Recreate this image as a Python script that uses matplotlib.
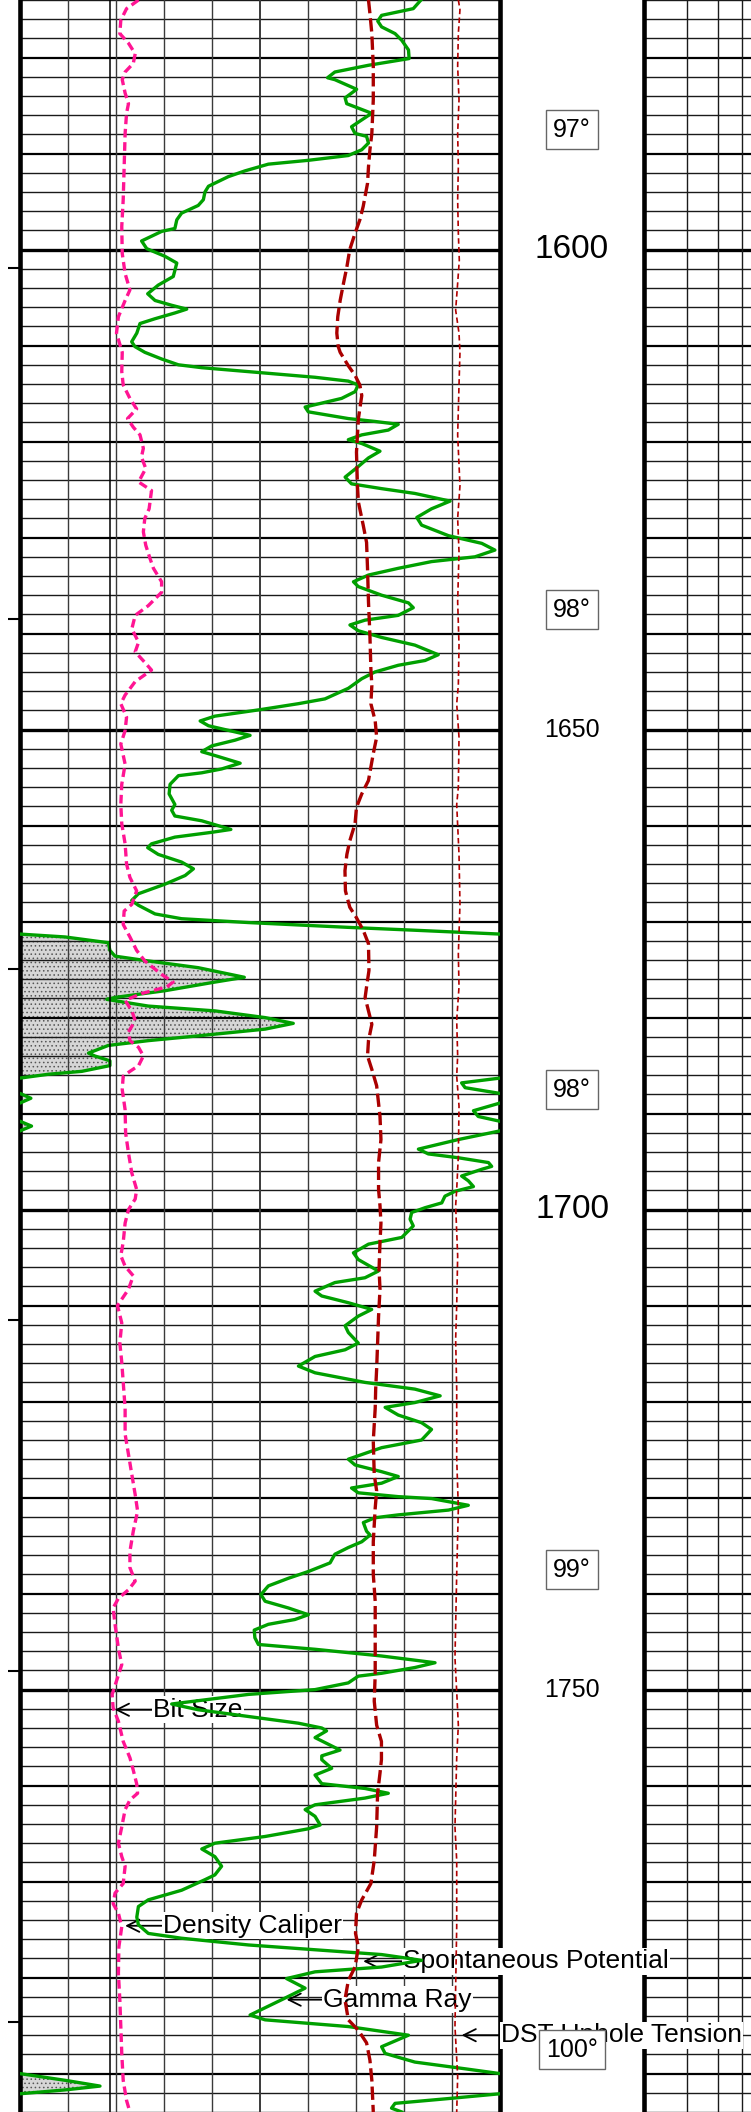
import numpy as np
import matplotlib.pyplot as plt
import matplotlib.transforms as mtransforms

plt.rcParams['font.family'] = ['Liberation Sans', 'DejaVu Sans']
plt.rcParams['hatch.linewidth'] = 0.6

# depth window shown on this sheet (ft)
top, base = 1574, 1794

# gamma ray, API (0-150 track, values above 150 wrap back in)
gr_depth = [1574.0, 1574.9, 1575.6, 1576.2, 1576.8, 1577.5, 1578.2, 1579.2, 1580.1, 1580.8,
            1581.5, 1582.1, 1582.3, 1583.3, 1584.2, 1584.8, 1585.8, 1587.2, 1587.9, 1588.2,
            1588.9, 1589.6, 1590.2, 1590.7, 1591.1, 1591.8, 1592.4, 1593.4, 1594.0, 1594.8,
            1595.4, 1596.2, 1596.9, 1597.8, 1598.1, 1599.1, 1599.9, 1600.7, 1601.4, 1602.8,
            1603.7, 1604.6, 1605.3, 1605.8, 1606.2, 1606.6, 1607.2, 1607.7, 1608.7, 1609.6,
            1610.1, 1610.7, 1611.4, 1612.0, 1612.3, 1612.8, 1613.3, 1613.7, 1614.1, 1614.8,
            1615.5, 1616.4, 1616.9, 1617.6, 1617.9, 1618.2, 1618.8, 1619.3, 1619.8, 1620.2,
            1621.0, 1621.7, 1622.6, 1623.7, 1624.4, 1624.9, 1625.4, 1626.2, 1627.0, 1627.9,
            1628.7, 1629.8, 1630.6, 1631.3, 1632.0, 1632.5, 1633.2, 1633.9, 1634.6, 1635.1,
            1636.0, 1636.8, 1637.3, 1638.1, 1638.6, 1639.1, 1639.7, 1640.4, 1641.2, 1642.2,
            1642.8, 1643.3, 1644.0, 1644.7, 1645.7, 1646.8, 1647.3, 1647.9, 1648.6, 1649.1,
            1649.6, 1650.6, 1651.1, 1651.7, 1652.3, 1652.7, 1653.5, 1654.1, 1654.5, 1654.8,
            1655.7, 1656.7, 1657.8, 1658.4, 1659.0, 1659.5, 1660.4, 1660.7, 1661.2, 1661.9,
            1662.3, 1663.0, 1663.8, 1664.5, 1665.2, 1666.1, 1667.1, 1667.8, 1668.3, 1669.2,
            1669.7, 1670.1, 1670.6, 1670.9, 1671.3, 1671.6, 1672.2, 1673.0, 1673.6, 1674.1,
            1674.8, 1675.8, 1676.3, 1677.2, 1677.9, 1678.1, 1678.8, 1679.3, 1680.0, 1680.6,
            1681.2, 1681.9, 1682.4, 1682.9, 1683.7, 1684.0, 1684.5, 1685.0, 1685.6, 1685.9,
            1686.3, 1686.8, 1687.3, 1687.9, 1688.4, 1688.9, 1689.7, 1690.3, 1690.8, 1691.3,
            1691.8, 1692.7, 1693.7, 1694.2, 1694.6, 1695.1, 1695.5, 1695.8, 1696.5, 1697.0,
            1697.6, 1698.1, 1698.6, 1699.3, 1699.8, 1700.3, 1701.0, 1701.7, 1702.9, 1703.6,
            1704.5, 1705.2, 1706.4, 1707.1, 1707.6, 1708.5, 1709.0, 1709.7, 1710.4, 1711.1,
            1712.1, 1712.8, 1713.9, 1714.6, 1715.3, 1716.3, 1717.0, 1718.0, 1718.7, 1719.4,
            1720.1, 1720.6, 1721.4, 1722.2, 1722.9, 1724.0, 1724.8, 1726.0, 1726.6, 1727.3,
            1727.8, 1728.5, 1729.0, 1729.5, 1729.9, 1730.1, 1730.8, 1731.3, 1731.8, 1732.1,
            1732.6, 1733.5, 1733.9, 1734.6, 1735.2, 1735.9, 1736.8, 1737.7, 1738.4, 1739.2,
            1740.1, 1740.8, 1741.5, 1742.2, 1742.7, 1743.2, 1743.8, 1744.6, 1745.3, 1745.8,
            1746.5, 1747.2, 1747.7, 1748.3, 1748.6, 1749.3, 1750.0, 1750.5, 1751.5, 1752.1,
            1752.8, 1753.5, 1754.0, 1754.3, 1755.0, 1755.7, 1756.3, 1756.9, 1757.3, 1758.2,
            1758.9, 1759.8, 1760.3, 1760.8, 1761.3, 1762.0, 1762.5, 1763.2, 1764.1, 1764.5,
            1765.3, 1766.0, 1766.6, 1767.4, 1768.4, 1769.3, 1769.8, 1770.9, 1771.9, 1772.6,
            1773.7, 1774.5, 1775.4, 1775.9, 1776.6, 1777.1, 1777.6, 1778.2, 1778.9, 1779.4,
            1780.1, 1781.1, 1782.3, 1783.9, 1784.4, 1785.1, 1786.0, 1787.2, 1787.9, 1788.8,
            1789.5, 1790.0, 1790.7, 1791.3, 1791.7, 1792.1, 1792.6, 1793.1, 1793.6, 1794.0]
gr_api = [125.3, 122.9, 113.0, 111.8, 113.0, 117.2, 119.3, 121.4, 121.6, 108.9,
          98.4, 96.1, 98.4, 105.2, 101.6, 102.1, 109.9, 103.6, 104.7, 108.3,
          108.9, 106.8, 102.6, 90.1, 77.6, 70.3, 65.1, 58.9, 57.8, 57.3,
          55.7, 50.5, 49.0, 48.4, 44.3, 38.0, 39.6, 45.3, 49.0, 47.9,
          43.2, 39.9, 42.2, 47.4, 52.1, 48.4, 42.2, 37.5, 36.5, 34.9,
          35.9, 39.0, 44.3, 49.5, 56.8, 74.5, 92.2, 102.6, 105.7, 104.7,
          100.5, 89.1, 90.1, 102.6, 110.9, 118.2, 115.1, 106.8, 102.6, 106.8,
          112.5, 108.9, 105.7, 101.6, 103.6, 113.0, 123.4, 134.4, 128.6, 124.0,
          125.5, 133.9, 144.3, 148.4, 142.2, 128.6, 118.2, 108.9, 104.2, 105.7,
          113.0, 121.4, 122.9, 118.2, 107.8, 103.1, 105.7, 113.0, 123.4, 130.7,
          126.6, 118.2, 110.9, 106.8, 102.6, 95.3, 87.0, 75.5, 60.9, 56.3,
          58.9, 71.9, 67.2, 59.9, 56.8, 60.9, 68.8, 63.0, 56.8, 49.5,
          46.9, 46.6, 48.4, 47.4, 48.4, 56.8, 65.9, 59.9, 48.4, 41.1,
          39.9, 43.2, 50.5, 54.2, 51.6, 45.3, 37.0, 34.9, 37.0, 42.2,
          50.5, 71.4, 102.6, 123.4, 150.0, 164.1, 177.6, 178.1, 179.7, 190.1,
          205.7, 220.1, 210.9, 195.3, 179.7, 177.1, 190.1, 210.9, 226.6, 235.4,
          226.6, 205.7, 190.1, 177.6, 171.4, 173.4, 178.1, 178.1, 169.3, 158.9,
          150.0, 138.0, 139.1, 150.0, 153.4, 150.0, 141.7, 143.2, 150.0, 153.6,
          150.0, 137.0, 124.5, 127.6, 137.0, 146.4, 147.4, 144.3, 138.0, 140.1,
          141.7, 135.9, 132.8, 131.8, 126.6, 122.4, 121.9, 122.9, 119.3, 108.9,
          104.2, 105.7, 112.0, 107.8, 98.4, 92.2, 94.3, 102.6, 109.9, 105.7,
          101.6, 102.6, 105.7, 101.6, 92.2, 87.0, 92.2, 107.8, 123.4, 131.3,
          123.4, 114.1, 118.2, 125.5, 128.6, 125.5, 113.0, 102.6, 104.7, 113.0,
          118.2, 113.0, 103.6, 105.7, 118.2, 128.6, 140.1, 133.9, 118.2, 110.9,
          107.3, 108.3, 109.4, 106.8, 102.6, 98.4, 96.9, 90.1, 83.9, 77.6,
          75.3, 76.6, 83.9, 90.1, 85.9, 77.6, 73.2, 73.4, 74.5, 92.2,
          113.0, 129.7, 123.4, 113.0, 105.7, 102.6, 92.2, 71.4, 47.4, 55.7,
          71.4, 87.0, 94.3, 95.8, 92.2, 96.4, 100.0, 94.3, 94.3, 97.4,
          92.2, 94.3, 107.8, 115.1, 107.8, 92.2, 89.1, 92.2, 93.8, 90.1,
          76.6, 60.9, 56.8, 60.9, 63.0, 60.9, 57.8, 50.5, 40.1, 37.0,
          36.5, 37.0, 40.1, 50.5, 71.4, 92.2, 113.0, 125.5, 113.0, 92.2,
          83.3, 89.1, 81.8, 71.9, 76.6, 102.6, 121.4, 113.0, 114.1, 123.4,
          139.1, 150.0, 164.1, 175.0, 164.1, 150.0, 133.9, 117.2, 116.1, 119.3]

# density caliper, inches (6-16 track)
cal_depth = [1574.0, 1574.9, 1576.1, 1577.5, 1578.5, 1579.6, 1580.6, 1581.5, 1582.3, 1583.7,
             1584.8, 1585.8, 1587.9, 1591.4, 1594.8, 1597.6, 1600.4, 1602.5, 1604.2, 1605.3,
             1607.0, 1608.7, 1610.7, 1612.7, 1614.1, 1615.5, 1616.6, 1617.6, 1618.5, 1619.3,
             1620.7, 1621.6, 1622.8, 1624.2, 1625.1, 1627.0, 1628.0, 1629.4, 1630.8, 1632.2,
             1633.2, 1634.6, 1635.7, 1637.1, 1638.1, 1639.5, 1640.9, 1641.9, 1643.0, 1643.8,
             1645.0, 1646.4, 1647.3, 1648.7, 1650.1, 1651.5, 1653.6, 1655.7, 1657.8, 1659.8,
             1661.9, 1664.0, 1665.4, 1666.8, 1668.2, 1668.9, 1670.3, 1671.6, 1673.0, 1674.1,
             1675.5, 1676.3, 1676.8, 1677.5, 1678.2, 1679.3, 1680.3, 1681.5, 1682.4, 1683.1,
             1684.0, 1685.0, 1685.6, 1686.1, 1687.5, 1689.6, 1692.0, 1694.1, 1696.2, 1697.9,
             1698.9, 1700.0, 1701.4, 1703.4, 1704.8, 1705.9, 1706.9, 1708.3, 1710.0, 1711.8,
             1713.9, 1715.9, 1718.0, 1720.7, 1723.4, 1725.5, 1727.6, 1729.7, 1731.4, 1733.5,
             1735.6, 1737.3, 1738.7, 1739.6, 1740.5, 1741.5, 1743.2, 1745.7, 1747.4, 1749.1,
             1750.5, 1751.9, 1753.3, 1755.4, 1757.1, 1758.4, 1759.8, 1760.8, 1761.5, 1762.5,
             1764.3, 1766.0, 1767.4, 1768.4, 1770.2, 1771.2, 1772.3, 1773.3, 1774.7, 1776.8,
             1779.6, 1782.3, 1785.1, 1787.9, 1790.7, 1792.8, 1794.0]
cal_in = [8.47, 8.22, 8.10, 8.08, 8.26, 8.40, 8.36, 8.19, 8.13, 8.19,
          8.26, 8.22, 8.19, 8.17, 8.15, 8.12, 8.13, 8.19, 8.29, 8.19,
          8.05, 8.01, 8.13, 8.12, 8.15, 8.29, 8.43, 8.24, 8.36, 8.50,
          8.57, 8.53, 8.62, 8.47, 8.74, 8.69, 8.60, 8.57, 8.62, 8.71,
          8.78, 8.95, 8.95, 8.67, 8.40, 8.33, 8.47, 8.40, 8.60, 8.74,
          8.40, 8.19, 8.10, 8.22, 8.19, 8.10, 8.19, 8.12, 8.10, 8.12,
          8.19, 8.22, 8.29, 8.43, 8.33, 8.17, 8.15, 8.29, 8.43, 8.60,
          8.95, 9.19, 9.06, 8.53, 8.19, 8.33, 8.40, 8.26, 8.29, 8.47,
          8.57, 8.47, 8.29, 8.15, 8.13, 8.19, 8.20, 8.26, 8.33, 8.43,
          8.40, 8.26, 8.19, 8.15, 8.10, 8.19, 8.36, 8.26, 8.03, 8.12,
          8.08, 8.12, 8.15, 8.19, 8.19, 8.26, 8.33, 8.40, 8.45, 8.36,
          8.29, 8.29, 8.40, 8.26, 8.05, 7.94, 7.98, 8.05, 8.12, 8.01,
          7.92, 7.94, 8.05, 8.15, 8.29, 8.36, 8.43, 8.45, 8.29, 8.19,
          8.12, 8.05, 8.12, 8.19, 8.15, 7.98, 7.94, 8.05, 8.12, 8.06,
          8.05, 8.08, 8.10, 8.12, 8.15, 8.22, 8.29]
bit_size = 7.875

# spontaneous potential, mV (-80 to 20 track)
sp_depth = [1574.0, 1575.4, 1577.5, 1580.9, 1584.4, 1587.9, 1589.6, 1591.4, 1593.1, 1595.5,
            1596.9, 1598.3, 1600.0, 1601.8, 1603.5, 1605.3, 1607.0, 1608.7, 1610.1, 1610.7,
            1612.1, 1613.1, 1614.1, 1615.2, 1617.6, 1621.1, 1624.6, 1626.3, 1628.7, 1630.5,
            1633.2, 1636.7, 1640.2, 1643.7, 1645.4, 1647.3, 1649.1, 1650.8, 1652.5, 1655.3,
            1656.7, 1658.1, 1659.8, 1661.6, 1663.0, 1664.7, 1666.8, 1668.5, 1669.6, 1670.9,
            1672.3, 1675.1, 1676.8, 1677.9, 1679.3, 1680.7, 1682.4, 1684.0, 1685.4, 1687.1,
            1690.3, 1692.7, 1695.1, 1697.9, 1699.6, 1701.4, 1703.4, 1706.2, 1708.3, 1711.1,
            1713.9, 1716.6, 1718.7, 1720.7, 1724.1, 1727.6, 1729.3, 1731.1, 1734.6, 1738.0,
            1740.8, 1745.0, 1748.4, 1751.2, 1753.7, 1755.4, 1757.3, 1758.7, 1760.8, 1764.3,
            1767.8, 1770.2, 1771.9, 1773.3, 1775.4, 1776.8, 1778.9, 1780.3, 1782.3, 1784.4,
            1785.5, 1786.8, 1788.6, 1790.7, 1794.0]
sp_mv = [-7.4, -7.1, -6.7, -6.4, -6.4, -6.7, -7.1, -7.4, -7.6, -8.5,
         -9.2, -10.2, -11.3, -11.9, -12.6, -13.3, -13.8, -14.0, -13.7, -13.3,
         -11.6, -10.2, -9.2, -8.8, -9.5, -9.9, -9.7, -9.5, -8.5, -7.8,
         -7.6, -7.4, -7.1, -6.9, -6.7, -6.9, -6.0, -5.7, -6.4, -7.4,
         -8.8, -9.9, -10.2, -11.3, -11.9, -12.3, -12.2, -11.3, -9.9, -8.5,
         -7.4, -7.3, -7.8, -8.1, -7.4, -6.7, -7.4, -7.6, -6.7, -5.7,
         -5.0, -4.8, -5.3, -5.3, -5.0, -4.8, -5.0, -5.2, -5.0, -5.3,
         -5.5, -5.7, -5.9, -6.0, -6.4, -6.2, -5.7, -6.0, -6.4, -6.4,
         -6.0, -6.0, -6.0, -6.2, -5.7, -4.7, -4.7, -5.0, -5.5, -5.7,
         -6.2, -6.9, -8.8, -9.9, -10.1, -9.5, -10.2, -11.6, -12.3, -11.6,
         -9.5, -7.8, -7.1, -6.7, -6.4]

# DST uphole tension (0-50 track)
dst_depth = [1574.0, 1575.0, 1577.5, 1580.9, 1584.4, 1587.9, 1591.4, 1594.8, 1598.3, 1601.1,
             1603.5, 1606.3, 1608.7, 1610.7, 1614.1, 1619.3, 1624.6, 1628.0, 1631.5, 1636.7,
             1641.2, 1645.4, 1647.3, 1650.8, 1656.0, 1657.8, 1663.0, 1668.2, 1673.4, 1676.8,
             1680.3, 1684.0, 1686.1, 1689.2, 1694.4, 1697.9, 1699.6, 1704.8, 1710.0, 1713.5,
             1718.7, 1725.9, 1731.1, 1738.0, 1746.7, 1750.2, 1753.7, 1757.1, 1764.3, 1767.8,
             1774.7, 1785.1, 1790.3, 1794.0]
dst_tension = [45.66, 45.83, 45.66, 45.59, 45.73, 45.59, 45.66, 45.59, 45.66, 45.76,
               45.59, 45.38, 45.73, 45.83, 45.73, 45.59, 45.83, 45.59, 45.73, 45.59,
               45.73, 45.66, 45.49, 45.73, 45.66, 45.49, 45.73, 45.83, 45.66, 45.73,
               45.49, 45.59, 45.49, 45.73, 45.66, 45.49, 45.38, 45.59, 45.49, 45.38,
               45.49, 45.49, 45.66, 45.49, 45.31, 45.49, 45.66, 45.49, 45.31, 45.49,
               45.49, 45.31, 45.59, 45.49]

depth_labels = [1600, 1650, 1700, 1750]
temp_depth = [1587.5, 1637.5, 1687.5, 1737.5, 1787.5]
temp_labels = ['97°', '98°', '98°', '99°', '100°']
time_marks = [1601.9, 1638.5, 1674.9, 1711.5, 1748.1, 1784.6]

W, H = 751, 2112
fig = plt.figure(figsize=(W / 100, H / 100), dpi=100)

ax1 = fig.add_axes([20 / W, 0, 480 / W, 1])
ax2 = fig.add_axes([644 / W, 0, 107 / W, 1])
ax1.set_zorder(1)
ax2.set_zorder(0)

ax1.set_xlim(0, 150)
ax1.set_ylim(base, top)
ax2.set_xscale('log')
ax2.set_xlim(0.2, 0.2 * 10 ** (107 / 246))
ax2.set_ylim(base, top)

# depth grid
for ax in (ax1, ax2):
    for d in np.arange(top, base + 1, 2):
        if d % 50 == 0:
            lw, c = 2.4, 'black'
        elif d % 10 == 0:
            lw, c = 1.6, 'black'
        else:
            lw, c = 1.0, '#1a1a1a'
        ax.axhline(d, color=c, lw=lw, zorder=1.5)
for v in np.arange(15, 150, 15):
    ax1.axvline(v, color='#3a3a3a', lw=1.0 if v != 75 else 1.4, zorder=1.5)
for v in [0.3, 0.4, 0.5]:
    ax2.axvline(v, color='#1a1a1a', lw=1.0, zorder=1.5)

for s in ['top', 'bottom']:
    ax1.spines[s].set_visible(False)
    ax2.spines[s].set_visible(False)
ax2.spines['right'].set_visible(False)
ax1.spines['left'].set_linewidth(3.3)
ax1.spines['right'].set_linewidth(3.3)
ax2.spines['left'].set_linewidth(3.3)

ax1.set_xticks([])
ax1.set_yticks(time_marks)
ax1.set_yticklabels([])
ax1.tick_params(axis='y', direction='out', length=9, width=1.5, left=True, right=False)
ax2.set_xticks([])
ax2.set_xticks([], minor=True)
ax2.set_yticks([])

# gamma ray with wrap-around backup
gr = np.array(gr_api)
wrap = gr - 150
ax1.fill_betweenx(gr_depth, 0, np.clip(wrap, 0, None), facecolor='#d6d6d6',
                  edgecolor='#555555', hatch='....', lw=0, zorder=1)
ax1.plot(gr, gr_depth, color='#00a000', lw=2.4, zorder=4)
ax1.plot(wrap, gr_depth, color='#00a000', lw=2.4, zorder=4)

ax_cal = ax1.twiny()
ax_cal.set_xlim(6, 16)
ax_sp = ax1.twiny()
ax_sp.set_xlim(-80, 20)
ax_dst = ax1.twiny()
ax_dst.set_xlim(0, 50)
for ax in (ax_cal, ax_sp, ax_dst):
    ax.axis('off')
    ax.set_zorder(2)

ax_cal.axvline(bit_size, color='black', lw=1.1)
ax_cal.plot(cal_in, cal_depth, color='#ff1493', lw=2.4, dashes=(2.6, 1.4))
ax_sp.plot(sp_mv, sp_depth, color='#aa0000', lw=2.4, dashes=(4.0, 1.5))
ax_dst.plot(dst_tension, dst_depth, color='#b00000', lw=1.2, dashes=(3.3, 2.0))

# curve labels
arrow = dict(arrowstyle='->', lw=1.3, color='black', shrinkA=0, shrinkB=0,
             mutation_scale=22)
box = dict(boxstyle='square,pad=0.05', fc='white', ec='none')
labels = [('Bit Size', ax_cal.transData, (bit_size + 0.1, 1752.1), 41.6),
          ('Density Caliper', ax_cal.transData, (8.19, 1774.6), 44.7),
          ('Spontaneous Potential', ax_sp.transData, (-8.5, 1778.3), 119.7),
          ('Gamma Ray', ax1.transData, (83.3, 1782.3), 94.7),
          ('DST Uphole Tension', ax_dst.transData, (46.0, 1786.0), 150.3)]
for txt, tr, xy, tx in labels:
    ax1.annotate(txt, xy=xy, xycoords=tr, xytext=(tx, xy[1]), textcoords='data',
                 ha='left', va='center', fontsize=19, bbox=box, arrowprops=arrow,
                 zorder=3)

# depth track
trans = mtransforms.blended_transform_factory(fig.transFigure, ax1.transData)
xc = 572 / W
for d in depth_labels:
    fs = 24 if d % 100 == 0 else 18
    fig.text(xc, d, str(d), transform=trans, ha='center', va='center', fontsize=fs)
for d, t in zip(temp_depth, temp_labels):
    fig.text(xc, d, t, transform=trans, ha='center', va='center', fontsize=18,
             bbox=dict(boxstyle='square,pad=0.3', fc='white', ec='#666666', lw=1.0))

fig.savefig('out.png', dpi=100, facecolor='white')
